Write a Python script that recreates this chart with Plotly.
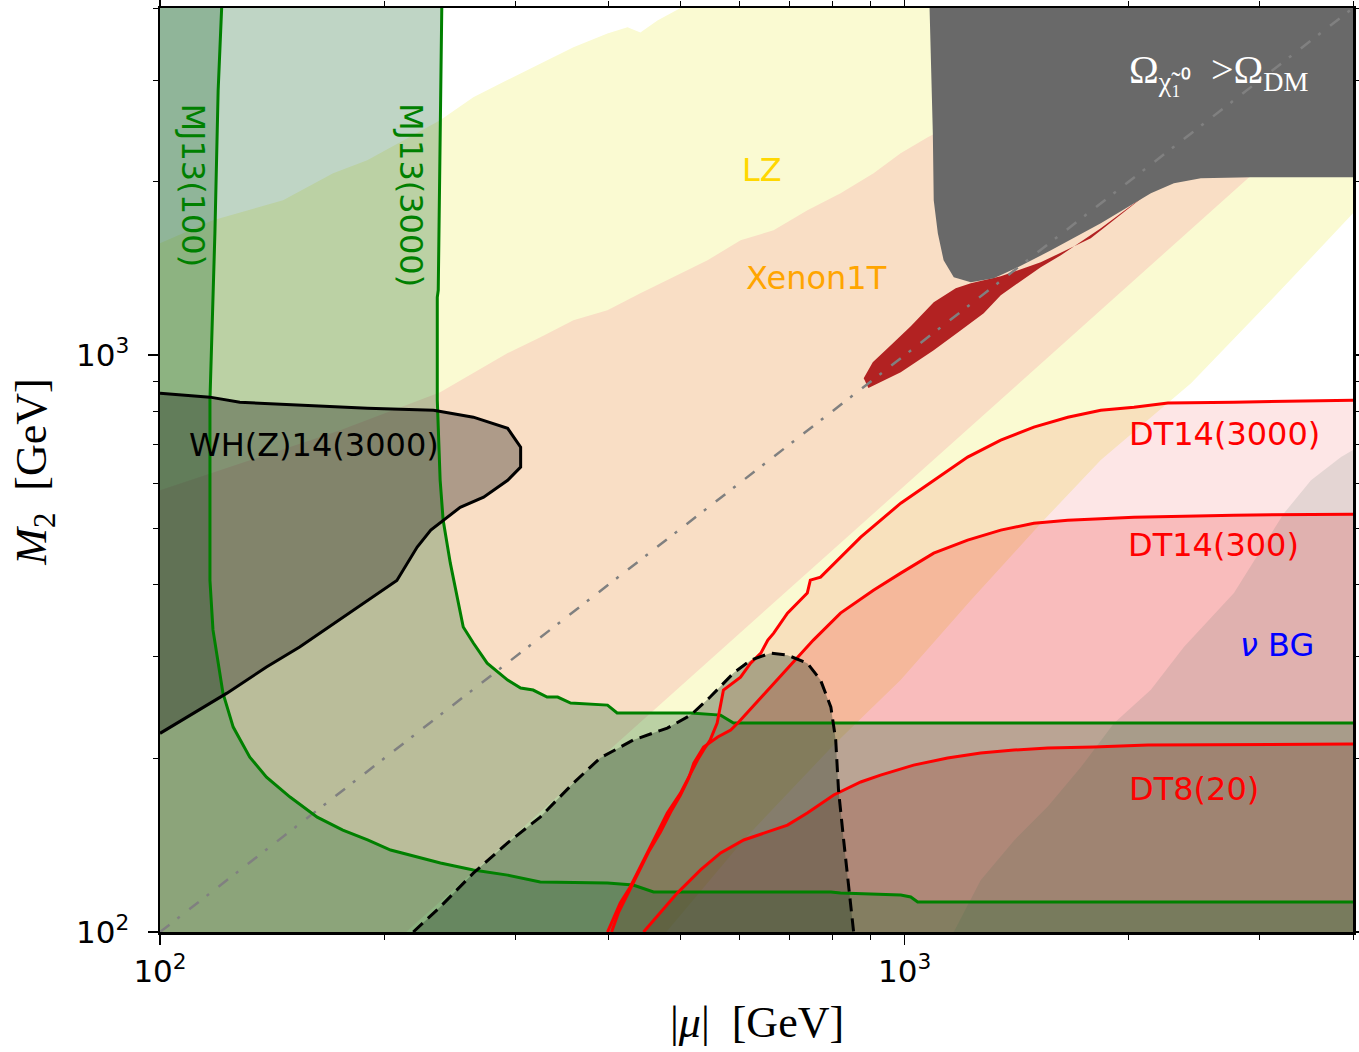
import math
import plotly.graph_objects as go

# ---------------- axis extents (GeV) ----------------
X_RANGE = [100, 4000]
Y_RANGE = [100, 4000]
FAR_LO = 70      # helper bound outside the plotted window
FAR_HI = 9000

# ---------------- LZ band ----------------
lz_upper_x = [100, 117.8, 146.3, 170.8, 189.8, 237.8, 263.5, 292.7, 324.2, 359.1, 398.9, 424.4, 441.7, 465.6, 500, 621]
lz_upper_y = [1564, 1714, 1856, 2067, 2178, 2555, 2800, 3000, 3207, 3419, 3614, 3703, 3629, 3807, 4000, 5033]
lz_lower_x = [8618, 4000, 3104, 2424, 1834, 1538, 1227, 987.6, 803, 607.7, 478.6, 390]
lz_lower_y = [4743, 1762, 1245, 894, 658, 518, 376, 273.4, 211, 144.4, 100, 76.2]

# ---------------- Xenon1T band ----------------
xe_upper_x = [100, 132.1, 174.6, 237.8, 263.5, 292.7, 324.2, 359.1, 398.9, 441.7, 489.3, 543.6, 602.1, 666.8, 740.4, 820.3, 908.4, 987.6, 1074, 2141, 4642]
xe_upper_y = [583.5, 657.7, 741.3, 862.9, 930.8, 1008, 1074, 1150, 1197, 1281, 1366, 1461, 1583, 1647, 1784, 1909, 2068, 2239, 2387, 3807, 7504]
xe_lower_x = [6325, 2891, 987.6, 465.6, 213.4, 169.2]
xe_lower_y = [4993, 2027, 586, 246.4, 100, 76.2]

# ---------------- disappearing track curves ----------------
dt3000_x = [399, 415, 428, 446, 460, 480, 500, 516, 527, 537, 548, 560, 562, 571, 602, 621, 641, 655, 667, 696, 740, 747, 771, 820, 873, 988, 1094, 1215, 1346, 1491, 1656, 1834, 2032, 2257, 2768, 4000]
dt3000_y = [100, 112.3, 119.7, 133.3, 144.4, 160.8, 174.1, 188.6, 198.7, 206.8, 215.2, 230.3, 235.8, 262.7, 276.7, 292.5, 304.4, 320.7, 329.8, 357.2, 386.9, 407.4, 412.4, 446.6, 483.8, 554, 607, 666, 712.5, 750.5, 780.6, 803, 812.6, 826, 829, 835.6]
dt300_x = [404, 413, 426, 439, 453, 470, 485, 500, 513, 521, 537, 561, 584, 597, 754, 820, 908, 988, 1094, 1215, 1346, 1491, 1656, 2032, 2768, 4000]
dt300_y = [100, 108.3, 117.3, 127, 137.6, 149.1, 161.4, 172.8, 184.9, 196.3, 209.2, 217.8, 223.9, 230.3, 320.7, 357.2, 391.4, 419, 453.8, 478, 497.5, 511.5, 517.6, 523.9, 528.1, 530.2]
dt8_x = [446, 470, 495, 532, 566, 608, 655, 696, 740, 803, 873, 928, 1028, 1142, 1265, 1402, 1557, 1795, 2122, 4000]
dt8_y = [100, 108.3, 116.8, 128.1, 137.1, 144.4, 149.1, 153.2, 160.8, 172.8, 182, 187.1, 194.7, 200.3, 204.3, 206.8, 208.4, 209.2, 210.9, 211.8]

# ---------------- neutrino background ----------------
nubg_x = [4000, 3855, 3513, 3231, 2768, 2371, 2141, 1910, 1724, 1557, 1402, 1265, 1164]
nubg_y = [685, 666, 607, 532, 387, 312, 263, 230, 193, 165, 144, 123, 100]

# ---------------- mono-jet curves ----------------
mj100_x = [121, 119.7, 118.5, 117.5, 116.7, 116.7, 117.8, 121.5, 125.4, 132, 139, 149.5, 162.6, 176, 190, 204, 221.5, 238, 263.5, 293, 324, 399, 432, 460, 796, 820, 988, 1019, 1041, 4000]
mj100_y = [4000, 2880, 1627, 1092, 836, 407, 334, 259.5, 226.6, 201, 185.6, 171.4, 158.2, 150.2, 144.4, 138.7, 134.9, 131.7, 128.1, 125.5, 122.1, 121.6, 120.6, 117.3, 117.3, 116.8, 115.9, 115.0, 112.7, 112.7]
mj3000_x = [239, 238, 236.4, 235.7, 235.7, 237.8, 240, 245.4, 250.7, 255.4, 263.5, 275, 293, 305, 317, 331, 342, 356, 399, 411, 516, 566, 589, 4000]
mj3000_y = [4000, 2358, 1296, 1260, 836, 607, 518, 436, 381, 338, 317, 292.5, 273.4, 264.8, 262.7, 255.5, 255.5, 249.4, 247.4, 239.7, 239.7, 237.7, 230.3, 230.3]

# ---------------- WH(Z) region ----------------
wh_x = [100, 116.7, 128, 154, 190, 233, 263.5, 293, 305, 305, 293, 272, 253, 231, 221.5, 208, 190, 171, 154, 139, 123, 100]
wh_y = [859, 846, 829, 819, 809, 803, 781, 747, 693, 640, 607, 567.5, 545, 497.5, 465, 407, 376, 343, 312, 288, 259.5, 221]

# ---------------- dashed region ----------------
dh_x = [218.8, 237.8, 263.5, 292.7, 324, 359, 390, 432, 480, 516, 548, 589, 621, 660, 696, 740, 771, 796, 808, 815, 828, 841, 854]
dh_y = [100, 110.5, 126.5, 142.6, 158.2, 181.2, 200.3, 215.2, 225.7, 237.7, 255.5, 281.1, 296, 304.4, 302, 292.5, 273.4, 245.4, 215.2, 176.2, 144.4, 118.3, 100]

# ---------------- relic overabundance ----------------
relic_x = [1080, 1091, 1094, 1108, 1128, 1164, 1227, 1317, 1419, 1572, 1834, 2141, 2299, 2499, 2918, 4000]
relic_y = [4000, 2425, 1856, 1627, 1461, 1365, 1338, 1360, 1421, 1520, 1693, 1909, 1987, 2027, 2035, 2035]

# ---------------- well-tempered strip ----------------
wt_x = [881, 906, 958, 1019, 1094, 1171, 1227, 1346, 1523, 1778, 2121, 1834, 1621, 1523, 1346, 1277, 1190, 1094, 988, 928, 894]
wt_y = [912, 972, 1041, 1123, 1236, 1307, 1333, 1371, 1449, 1595, 1909, 1661, 1490, 1421, 1271, 1182, 1105, 1020, 934, 898, 877]

# ---------------- labels ----------------
label_text = ["MJ13(100)", "MJ13(3000)", "LZ", "Xenon1T", "WH(Z)14(3000)", "DT14(3000)", "DT14(300)", "<i>ν</i> BG", "DT8(20)"]
label_x = [110.7, 216.8, 642.5, 761.4, 161.1, 2692, 2602, 3162, 2446]
label_y = [1971, 1894, 2093, 1360, 698.3, 729.6, 468.5, 314.4, 177]
label_color = ["#008000", "#008000", "#FFD700", "#FFA500", "#000000", "#FF0000", "#FF0000", "#0000FF", "#FF0000"]
label_angle = [90, 90, 0, 0, 0, 0, 0, 0, 0]
relic_label_pos = (2642, 3094)

x_major = [100, 1000]
x_major_text = ["10<sup>2</sup>", "10<sup>3</sup>"]
y_major = [100, 1000]
y_major_text = ["10<sup>2</sup>", "10<sup>3</sup>"]
x_minor = [200, 300, 400, 500, 600, 700, 800, 900, 2000, 3000, 4000]
y_minor = [200, 300, 400, 500, 600, 700, 800, 900, 2000, 3000, 4000]

fig = go.Figure()


def poly(xs, ys, color):
    fig.add_trace(go.Scatter(x=xs, y=ys, mode="lines", fill="toself", fillcolor=color,
                             line=dict(width=0, color=color), hoverinfo="skip", showlegend=False))


def curve(xs, ys, color, width=3, dash="solid"):
    fig.add_trace(go.Scatter(x=xs, y=ys, mode="lines", line=dict(color=color, width=width, dash=dash),
                             hoverinfo="skip", showlegend=False))


# LZ (opaque pale yellow)
poly([FAR_LO] + lz_upper_x + lz_lower_x + [FAR_LO],
     [lz_upper_y[0]] + lz_upper_y + lz_lower_y + [FAR_LO], "rgb(250,250,210)")
# Xenon1T (opaque peach)
poly([FAR_LO] + xe_upper_x + xe_lower_x + [FAR_LO],
     [xe_upper_y[0]] + xe_upper_y + xe_lower_y + [FAR_LO], "rgb(249,222,197)")

# DT fills (region below / right of curves)
poly(dt3000_x + [FAR_HI, FAR_HI, dt3000_x[0]], dt3000_y + [dt3000_y[-1], FAR_LO, FAR_LO], "rgba(235,10,10,0.10)")
poly(dt300_x + [FAR_HI, FAR_HI, dt300_x[0]], dt300_y + [dt300_y[-1], FAR_LO, FAR_LO], "rgba(235,10,10,0.19)")
poly(dt8_x + [FAR_HI, FAR_HI, dt8_x[0]], dt8_y + [dt8_y[-1], FAR_LO, FAR_LO], "rgba(170,0,0,0.20)")

# neutrino background
poly([FAR_HI] + nubg_x + [nubg_x[-1], FAR_HI], [nubg_y[0]] + nubg_y + [FAR_LO, FAR_LO], "rgba(80,110,100,0.14)")

# mono-jet fills
poly(mj3000_x + [FAR_HI, FAR_HI, FAR_LO, FAR_LO, mj3000_x[0]],
     mj3000_y + [mj3000_y[-1], FAR_LO, FAR_LO, FAR_HI, FAR_HI], "rgba(20,100,40,0.27)")
poly(mj100_x + [FAR_HI, FAR_HI, FAR_LO, FAR_LO, mj100_x[0]],
     mj100_y + [mj100_y[-1], FAR_LO, FAR_LO, FAR_HI, FAR_HI], "rgba(20,100,40,0.28)")

# WH(Z) region
poly([FAR_LO] + wh_x + [FAR_LO], [wh_y[0]] + wh_y + [wh_y[-1]], "rgba(0,0,0,0.30)")

# dashed region
poly(dh_x + [dh_x[-1], dh_x[0]], dh_y + [FAR_LO, FAR_LO], "rgba(35,55,35,0.35)")

# well-tempered strip and relic region
poly(wt_x, wt_y, "#B22222")
poly(relic_x + [FAR_HI, FAR_HI, relic_x[0]], relic_y + [relic_y[-1], FAR_HI, FAR_HI], "#696969")

# diagonal |mu| = M2
curve(X_RANGE, Y_RANGE, "#808080", width=2.5, dash="12px,10px,3px,12px")

# boundary curves
curve(mj100_x, mj100_y, "#008000", 3)
curve(mj3000_x, mj3000_y, "#008000", 3)
curve(wh_x, wh_y, "#000000", 3)
curve(dt3000_x, dt3000_y, "#FF0000", 3)
curve(dt300_x, dt300_y, "#FF0000", 3)
curve(dt8_x, dt8_y, "#FF0000", 3)
curve(dh_x, dh_y, "#000000", 3, dash="13px,7px")

# labels
for t, lx, ly, c, a in zip(label_text, label_x, label_y, label_color, label_angle):
    fig.add_annotation(x=math.log10(lx), y=math.log10(ly), xref="x", yref="y", text=t, showarrow=False,
                       textangle=a, font=dict(family="DejaVu Sans", size=32, color=c),
                       xanchor="center", yanchor="middle")

fig.add_annotation(x=math.log10(relic_label_pos[0]), y=math.log10(relic_label_pos[1]), xref="x", yref="y",
                   text="Ω<sub>χ̃₁⁰</sub>  >Ω<sub>DM</sub>", showarrow=False,
                   font=dict(family="Liberation Serif", size=40, color="white"),
                   xanchor="center", yanchor="middle")

# axis titles
fig.add_annotation(x=0.5, y=0, xref="paper", yref="paper", yshift=-90, text="|<i>μ</i>|  [GeV]",
                   showarrow=False, font=dict(family="Liberation Serif", size=44, color="black"),
                   xanchor="center", yanchor="middle")
fig.add_annotation(x=0, y=0.497, xref="paper", yref="paper", xshift=-125, text="<i>M</i><sub>2</sub>  [GeV]",
                   showarrow=False, textangle=-90, font=dict(family="Liberation Serif", size=44, color="black"),
                   xanchor="center", yanchor="middle")

axis_common = dict(showgrid=False, zeroline=False, showline=True, linecolor="black", linewidth=2.5,
                   mirror="allticks", ticks="outside", ticklen=10, tickwidth=1.5, tickcolor="black",
                   automargin=False,
                   tickfont=dict(family="DejaVu Sans", size=31, color="black"))

fig.update_xaxes(type="log", range=[math.log10(X_RANGE[0]), math.log10(X_RANGE[1])],
                 tickvals=x_major, ticktext=x_major_text,
                 minor=dict(tickvals=x_minor, ticks="outside", ticklen=5, tickwidth=1, tickcolor="black"),
                 **axis_common)
fig.update_yaxes(type="log", range=[math.log10(Y_RANGE[0]), math.log10(Y_RANGE[1])],
                 tickvals=y_major, ticktext=y_major_text, ticklabelstandoff=12,
                 minor=dict(tickvals=y_minor, ticks="outside", ticklen=5, tickwidth=1, tickcolor="black"),
                 **axis_common)

fig.update_layout(width=1359, height=1052, margin=dict(l=160, r=6, t=8, b=120, autoexpand=False),
                  plot_bgcolor="white", paper_bgcolor="white", showlegend=False)

fig.write_html("out.html", config={"displayModeBar": False, "staticPlot": True},
               post_script="document.body.style.margin='0px';document.body.style.overflow='hidden';")
